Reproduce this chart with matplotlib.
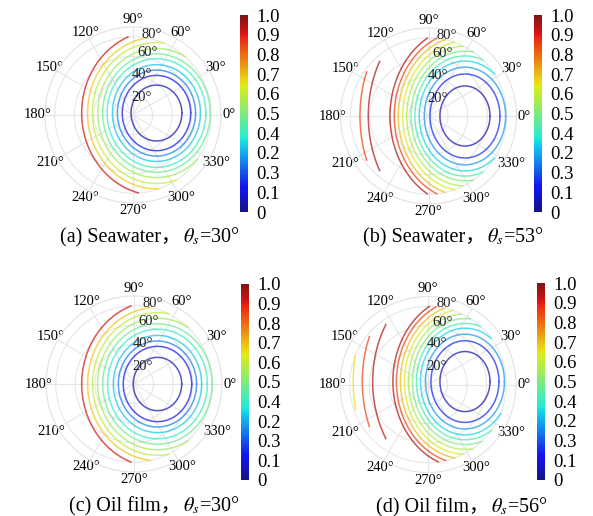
import numpy as np
import matplotlib
matplotlib.use("Agg")
import matplotlib.pyplot as plt
from matplotlib.cm import ScalarMappable
from matplotlib.colors import Normalize, ListedColormap

plt.rcParams['font.family'] = ['Liberation Serif', 'Noto Sans CJK SC']
plt.rcParams['mathtext.fontset'] = 'stix'

# ring centres (deg, in the plot plane) and ellipse aspect
centers = {"a": (24.0, 2.0), "b": (37.3, 0.0), "c": (24.0, 0.0), "d": (37.8, 3.0)}
aspects = {"a": 1.1, "b": 1.2, "c": 1.1, "d": 1.2}

# contour rings: horizontal radius (deg), contour value, right-hand gap half-angle (deg)
a_radius = [26, 35, 40, 45, 50.5, 55, 60, 65.5, 70.5, 76.5]
a_level = [0.05, 0.12, 0.25, 0.33, 0.40, 0.47, 0.55, 0.60, 0.68, 0.92]
a_gap = [0, 0, 0, 0, 0, 0, 0, 0, 0, 0]

b_radius = [25.6, 35.8, 41.6, 46.8, 51.2, 55.2, 59.6, 63.7, 68.2, 72.3, 76.7, 98.9, 107.4, 117.6]
b_level = [0.05, 0.15, 0.28, 0.35, 0.42, 0.50, 0.57, 0.63, 0.70, 0.85, 0.95, 0.95, 0.85, 0.65]
b_gap = [0, 0, 0, 0, 0, 0, 0, 0, 0, 0, 0, 152, 159.5, 168]

c_radius = [24.8, 35, 40, 45.2, 51, 56, 61.2, 66.3, 71.4, 77.5]
c_level = [0.05, 0.12, 0.25, 0.33, 0.40, 0.47, 0.55, 0.60, 0.68, 0.92]
c_gap = [0, 0, 0, 0, 0, 0, 0, 0, 0, 0]

d_radius = [25.6, 34.8, 40.4, 45.5, 49.6, 53.7, 57.8, 61.9, 66.0, 70.1, 73.7, 94.4, 105.0, 114.3]
d_level = [0.05, 0.15, 0.28, 0.35, 0.42, 0.50, 0.57, 0.63, 0.70, 0.85, 0.95, 0.95, 0.85, 0.65]
d_gap = [0, 0, 0, 0, 0, 0, 0, 0, 0, 0, 0, 149, 158.6, 168]

# caption split in two: plain part and the math part
caption_text = {"a": "(a) Seawater，", "b": "(b) Seawater，", "c": "(c) Oil film，", "d": "(d) Oil film，"}
caption_math = {"a": "$\\theta_s$=30°", "b": "$\\theta_s$=53°", "c": "$\\theta_s$=30°", "d": "$\\theta_s$=56°"}

cbar_values = [0, 0.1, 0.2, 0.3, 0.4, 0.5, 0.6, 0.7, 0.8, 0.9, 1.0]
cbar_labels = ["0", "0.1", "0.3", "0.2", "0.4", "0.5", "0.6", "0.7", "0.8", "0.9", "1.0"]

r_ticks = [20, 40, 60, 80]
# where the radial labels sit (radius, angle in deg)
r_label_pos = [(20.5, 63), (43, 77), (65.5, 77), (85, 77)]

R_MAX = 80.0

# slightly muted jet, as in the scanned figure
jet = plt.get_cmap("jet")(np.linspace(0, 1, 256))
jet[:, :3] = jet[:, :3] * 0.85 + 0.15 * 0.5
cmap = ListedColormap(jet)

W, H = 593, 516
fig = plt.figure(figsize=(W / 100, H / 100), dpi=100)


def px_rect(x0, y0, x1, y1):
    return [x0 / W, 1 - y1 / H, (x1 - x0) / W, (y1 - y0) / H]


polar_px = {"a": (133, 115), "b": (428.5, 116), "c": (134, 384), "d": (428, 384.5)}
cbar_px = {"a": (240, 15, 248, 212), "b": (534, 15, 542, 212),
           "c": (241, 284, 249, 480), "d": (537, 283, 545, 480)}
caption_px = {"a": (181, 242), "b": (485, 242), "c": (181, 511), "d": (489, 512)}

rings = {"a": (a_radius, a_level, a_gap), "b": (b_radius, b_level, b_gap),
         "c": (c_radius, c_level, c_gap), "d": (d_radius, d_level, d_gap)}


def draw_rings(ax, key):
    cx, cy = centers[key]
    asp = aspects[key]
    for r, lev, g in zip(*rings[key]):
        phi = np.radians(np.linspace(g, 360 - g, 600))
        x = cx + r * np.cos(phi)
        y = cy + asp * r * np.sin(phi)
        rho = np.hypot(x, y)
        th = np.unwrap(np.arctan2(y, x))
        rho = np.where(rho > R_MAX, np.nan, rho)
        ax.plot(th, rho, color=cmap(lev), lw=1.1, alpha=0.72)


for key in "abcd":
    px, py = polar_px[key]
    ax = fig.add_axes(px_rect(px - 88, py - 88, px + 88, py + 88), projection="polar")
    draw_rings(ax, key)
    ax.set_ylim(0, 90)
    ax.set_thetagrids(range(0, 360, 30), fontsize=10.5)
    ax.set_rgrids(r_ticks, labels=[""] * len(r_ticks))
    for rv, (rr, ang) in zip(r_ticks, r_label_pos):
        ax.text(np.radians(ang), rr, f"{rv}°", ha="center", va="center",
                fontsize=10.5, color="#222222")
    ax.grid(color="#e6e6e6", lw=0.8)
    ax.spines["polar"].set_color("#e2e2e2")
    ax.tick_params(axis="x", pad=-5)

    x0, y0, x1, y1 = cbar_px[key]
    cax = fig.add_axes(px_rect(x0, y0, x1, y1))
    cb = fig.colorbar(ScalarMappable(norm=Normalize(0, 1), cmap=cmap), cax=cax)
    cb.set_ticks(cbar_values)
    cb.set_ticklabels(cbar_labels)
    cb.outline.set_visible(False)
    cax.tick_params(length=0, pad=6, labelsize=13.5)

    tx, ty = caption_px[key]
    fig.text(tx / W, 1 - ty / H, caption_text[key], ha="right", va="baseline", fontsize=14.5)
    fig.text((tx + 2) / W, 1 - ty / H, caption_math[key], ha="left", va="baseline", fontsize=14.5)

fig.savefig("out.png", dpi=100)
